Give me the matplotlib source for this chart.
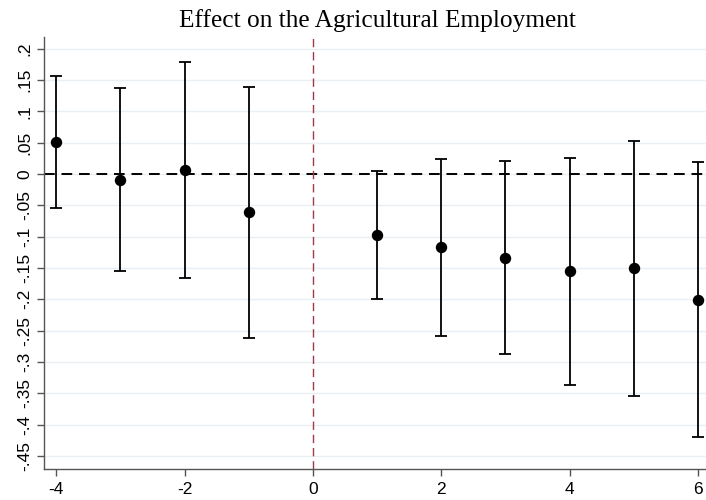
import matplotlib
matplotlib.use("Agg")
import matplotlib.pyplot as plt
from matplotlib.ticker import FixedLocator, FuncFormatter

plt.rcParams["axes.unicode_minus"] = False

# Event-study estimates: relative period, point estimate, 95% CI bounds
periods = [-4, -3, -2, -1, 1, 2, 3, 4, 5, 6]
coef = [0.051, -0.009, 0.006, -0.061, -0.098, -0.117, -0.134, -0.155, -0.150, -0.201]
ci_lo = [-0.054, -0.155, -0.166, -0.261, -0.200, -0.258, -0.288, -0.336, -0.354, -0.420]
ci_hi = [0.157, 0.137, 0.178, 0.139, 0.004, 0.024, 0.021, 0.026, 0.053, 0.019]

y_ticks = [-0.45, -0.4, -0.35, -0.3, -0.25, -0.2, -0.15, -0.1, -0.05,
           0.0, 0.05, 0.1, 0.15, 0.2]
x_ticks = [-4, -2, 0, 2, 4, 6]
title = "Effect on the Agricultural Employment"

sans = ["Liberation Sans", "DejaVu Sans"]
serif = ["Liberation Serif", "DejaVu Serif"]

fig = plt.figure(figsize=(7.06, 5.00), dpi=100)
ax = fig.add_axes([44 / 706, 31 / 500, 662 / 706, 432 / 500])

ax.set_xlim(-4.19, 6.125)
ax.set_ylim(-0.4707, 0.2186)

# horizontal grid
for yv in y_ticks:
    ax.axhline(yv, color="#e9eff2", lw=1.0, zorder=0)

# reference lines
ax.axhline(0, color="black", lw=1.4, ls=(0, (5.5, 3.5)), zorder=2)
ax.axvline(0, color="#9b3b4b", lw=1.0, ls=(0, (6, 3.5)), zorder=2)

yerr = [[c - lo for c, lo in zip(coef, ci_lo)],
        [hi - c for c, hi in zip(coef, ci_hi)]]
ax.errorbar(periods, coef, yerr=yerr, fmt="o", color="black",
            ecolor="black", elinewidth=1.3, capsize=4.0, capthick=1.3,
            markersize=7.2, zorder=3, clip_on=False)

# axes styling
for side in ("top", "right"):
    ax.spines[side].set_visible(False)
for side in ("left", "bottom"):
    ax.spines[side].set_color("#555555")
    ax.spines[side].set_linewidth(1.0)

ax.yaxis.set_major_locator(FixedLocator(y_ticks))
ax.xaxis.set_major_locator(FixedLocator(x_ticks))


def stata_fmt(v, pos):
    if abs(v) < 1e-12:
        return "0"
    s = ("%.2f" % v).rstrip("0").rstrip(".")
    return s.replace("0.", ".")


ax.yaxis.set_major_formatter(FuncFormatter(stata_fmt))
ax.tick_params(axis="both", direction="out", length=5, width=1.0,
               color="#555555", labelcolor="black", labelsize=12.5)
ax.tick_params(axis="y", pad=3.3)
ax.tick_params(axis="x", pad=4.5)
for lbl in ax.get_yticklabels():
    lbl.set_rotation(90)
    lbl.set_va("center")
    lbl.set_family(sans)
for lbl in ax.get_xticklabels():
    lbl.set_family(sans)

fig.text(377 / 706, 1 - 27 / 500, title, ha="center", va="baseline",
         fontsize=18.3, family=serif, color="black")

fig.savefig("out.png", dpi=100)
